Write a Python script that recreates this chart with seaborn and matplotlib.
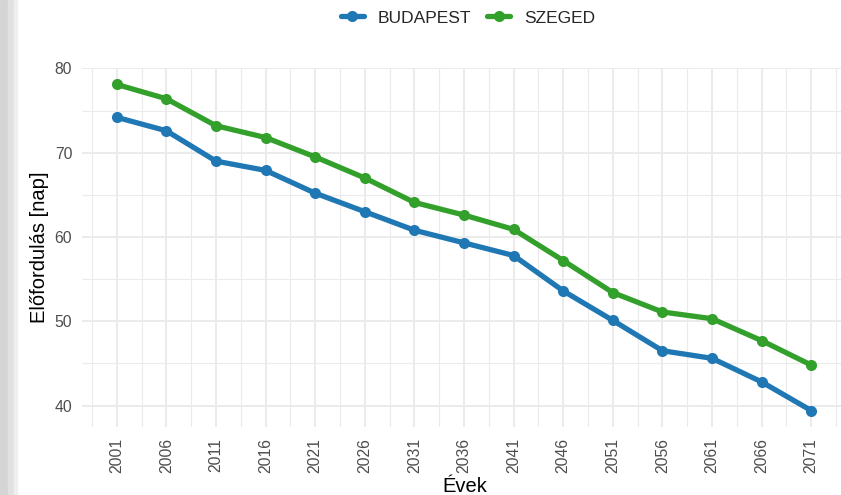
import numpy as np
import pandas as pd
import matplotlib
matplotlib.use("Agg")
import matplotlib.pyplot as plt
from matplotlib.patches import Rectangle
from matplotlib.ticker import MultipleLocator, FixedLocator
import seaborn as sns

# data
years = [2001, 2006, 2011, 2016, 2021, 2026, 2031, 2036, 2041, 2046, 2051, 2056, 2061, 2066, 2071]
budapest = [74.2, 72.6, 69.0, 67.9, 65.2, 63.0, 60.8, 59.3, 57.8, 53.6, 50.1, 46.5, 45.6, 42.8, 39.4]
szeged = [78.1, 76.4, 73.2, 71.8, 69.5, 67.0, 64.1, 62.6, 60.9, 57.2, 53.4, 51.1, 50.3, 47.7, 44.8]
cities = ["BUDAPEST", "SZEGED"]
city_colors = {"BUDAPEST": "#1f78b4", "SZEGED": "#33a02c"}

df = pd.DataFrame({
    "Év": years * 2,
    "Érték": budapest + szeged,
    "Város": ["BUDAPEST"] * len(years) + ["SZEGED"] * len(years),
})

sns.set_style("white")
plt.rcParams['font.family'] = ['Liberation Sans', 'DejaVu Sans']

W, H = 841, 495
fig = plt.figure(figsize=(W / 100, H / 100), dpi=100, facecolor="white")

# gray screenshot border on the left
fig.patches.append(Rectangle((0, 0), 8 / W, 1, transform=fig.transFigure, color="#d5d5d5", zorder=-1))
fig.patches.append(Rectangle((8 / W, 0), 6 / W, 1, transform=fig.transFigure, color="#e1e1e1", zorder=-1))
fig.patches.append(Rectangle((14 / W, 0), 3 / W, 1, transform=fig.transFigure, color="#efefef", zorder=-1))

ax = fig.add_axes([82 / W, 1 - 427 / H, (W - 82) / W, (427 - 68) / H])
ax.set_facecolor("white")

sns.lineplot(data=df, x="Év", y="Érték", hue="Város", hue_order=cities, palette=city_colors,
             marker="o", markersize=8, markeredgewidth=0, linewidth=3.8, ax=ax, legend=False)

ax.set_xlim(1997.5, 2074.0)
ax.set_ylim(37.45, 80.05)
ax.xaxis.set_major_locator(FixedLocator(years))
ax.xaxis.set_minor_locator(FixedLocator([y - 2.5 for y in years] + [2073.5]))
ax.yaxis.set_major_locator(MultipleLocator(10))
ax.yaxis.set_minor_locator(FixedLocator([45, 55, 65, 75]))
ax.grid(which="major", color="#ebebeb", linewidth=1.4)
ax.grid(which="minor", color="#ebebeb", linewidth=0.8)
ax.set_axisbelow(True)
for s in ax.spines.values():
    s.set_visible(False)

ax.tick_params(axis="both", which="both", length=0, labelcolor="#4d4d4d", labelsize=11.3)
ax.tick_params(axis="y", pad=7)
ax.tick_params(axis="x", pad=8)
ax.set_xticks(years)
ax.set_xticklabels([str(y) for y in years], rotation=90, va="top", ha="center")

ax.set_xlabel("")
ax.set_ylabel("Előfordulás [nap]", fontsize=14.5, color="black", labelpad=4)
fig.text(465 / W, 3 / H, "Évek", fontsize=14.5, ha="center", va="baseline", color="black")

handles = [plt.Line2D([], [], color=city_colors[c], linewidth=3.8, marker="o", markersize=8,
                      markeredgewidth=0) for c in cities]
fig.legend(handles, cities, loc="center", bbox_to_anchor=(468 / W, 1 - 18 / H), ncol=2,
           frameon=False, fontsize=12.5, handlelength=1.35, handletextpad=0.8, columnspacing=0.9)

fig.savefig("out.png", dpi=100, facecolor="white")
